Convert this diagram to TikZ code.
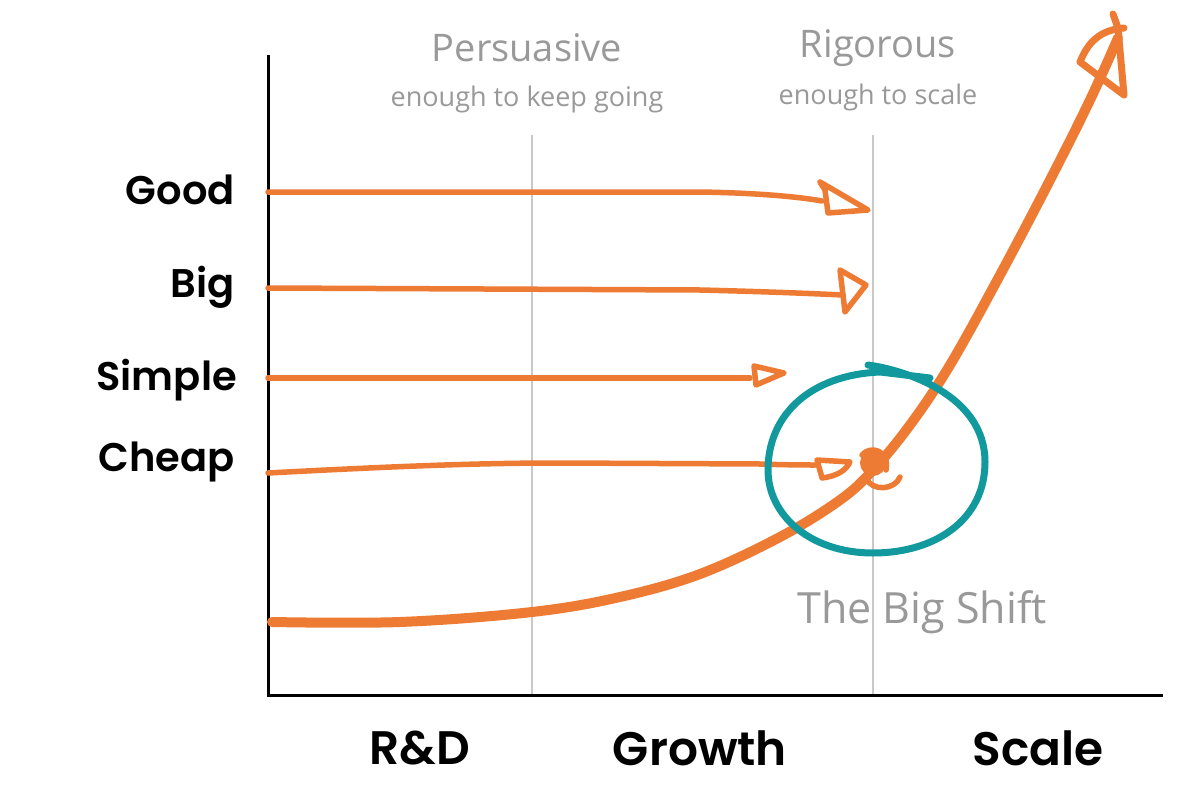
\documentclass[tikz,border=0pt]{standalone}
\usepackage{fontspec}
\setmainfont{Poppins}[BoldFont={Poppins SemiBold}]
\newfontfamily\hand{Open Sans}
\definecolor{org}{HTML}{EE7B33}
\definecolor{tealc}{HTML}{11999E}
\definecolor{gridg}{HTML}{C8C8C8}
\definecolor{txtg}{HTML}{999999}
\tikzset{
  axis/.style={line width=3pt, black},
  gridline/.style={line width=1.8pt, gridg},
  arr/.style={line width=5.5pt, org, line cap=round, line join=round},
  curve/.style={line width=10pt, org, line cap=round, line join=round},
  lab/.style={font=\fontsize{40}{44}\selectfont\bfseries, text=black, inner sep=0pt},
  blab/.style={font=\fontsize{47}{50}\selectfont\bfseries, text=black, inner sep=0pt},
  toplab/.style={font=\hand\fontsize{38}{40}\selectfont, text=txtg, inner sep=0pt},
  sublab/.style={font=\hand\fontsize{27}{30}\selectfont, text=txtg, inner sep=0pt},
}
\begin{document}
\begin{tikzpicture}[x=1pt,y=-1pt]
\useasboundingbox[fill=white] (0,0) rectangle (1200,800);
% grid lines
\draw[gridline] (532,135) -- (532,695);
\draw[gridline] (873,135) -- (873,695);
% axes
\coordinate (o) at (268,695);
\coordinate (ytop) at (268,55);
\coordinate (xend) at (1163,695);
\draw[axis] (ytop) -- (o) -- (xend);
% labels
\node[lab, anchor=east] (good) at (235,190) {Good};
\node[lab, anchor=east] (big) at (235,287) {Big};
\node[lab, anchor=east] (simple) at (237,380) {Simple};
\node[lab, anchor=east] (cheap) at (235,462) {Cheap};
\node[blab] (rd) at (420,748) {R\&D};
\node[blab] (growth) at (700,748) {Growth};
\node[blab] (scale) at (1038,748) {Scale};
\node[toplab] (pers) at (527,48) {Persuasive};
\node[sublab] (persb) at (527,99) {enough to keep going};
\node[toplab] (rig) at (878,48) {Rigorous};
\node[sublab] (rigb) at (878,97) {enough to scale};
\node[toplab, font=\hand\fontsize{43}{46}\selectfont] (shift) at (922,612) {The Big Shift};
% horizontal arrows
\draw[arr] (268,192) -- (700,192) .. controls (760,193) and (800,197) .. (822,201);
\draw[arr] (820,182) -- (825,190) -- (828,213) -- (868,210) -- cycle;
\draw[arr] (268,288) -- (700,290) .. controls (780,292) and (820,294) .. (843,295);
\draw[arr] (840,270) -- (845,312) -- (866,285) -- cycle;
\draw[arr] (268,378) -- (750,378);
\draw[arr] (754,366) -- (756,385) -- (784,373) -- cycle;
\draw[arr] (268,473) .. controls (400,466) and (480,463) .. (560,463) -- (760,464) .. controls (790,465) and (805,465) .. (815,465);
\draw[arr] (817,460) -- (822,478) .. controls (838,476) and (846,470) .. (850,462) -- cycle;
% s-curve
\draw[curve] plot[smooth, tension=0.6] coordinates {(272,622) (400,622) (532,612) (620,597) (700,574) (780,537) (840,500) (873,470) (910,425) (950,365) (1000,275) (1050,180) (1090,100) (1118,38)};
\draw[arr, line width=7pt] (1113,14) -- (1118,28) -- (1124,95) -- (1080,62) .. controls (1088,42) and (1100,30) .. (1124,28);
% scribble
\fill[org] (873,463) circle (13);
\draw[arr] (862,455) .. controls (870,445) and (890,450) .. (886,470);
\draw[arr] (866,478) .. controls (872,492) and (895,490) .. (900,477);
% teal circle
\draw[tealc, line width=7pt, line cap=round] (868,365) .. controls (905,370) and (985,395) .. (985,462)
  .. controls (985,520) and (935,553) .. (873,553)
  .. controls (810,553) and (768,515) .. (768,470)
  .. controls (768,415) and (810,375) .. (880,372) -- (930,378);
\end{tikzpicture}
\end{document}
